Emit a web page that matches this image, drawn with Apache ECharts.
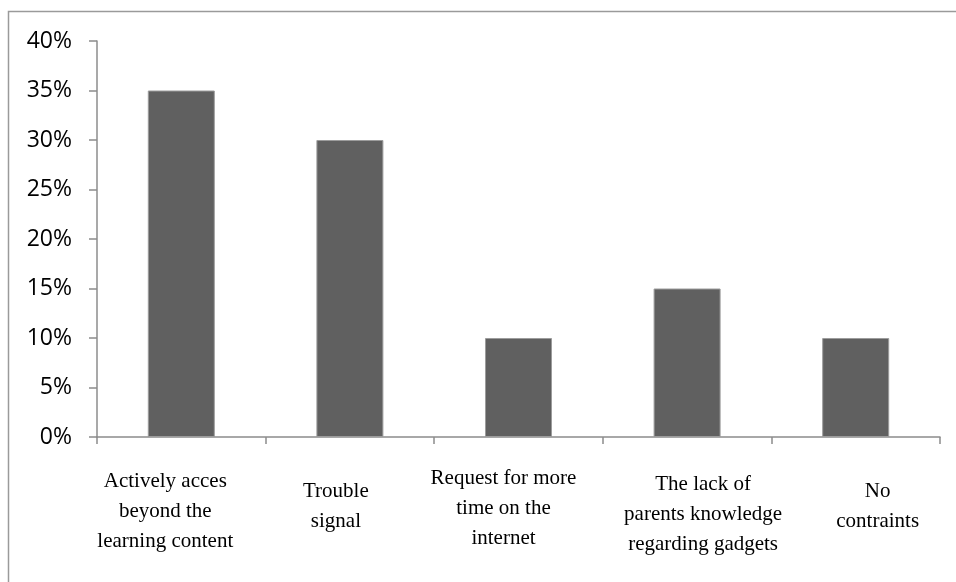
<!DOCTYPE html>
<html>
<head>
<meta charset="utf-8">
<script src="https://cdn.jsdelivr.net/npm/echarts@6/dist/echarts.min.js"></script>
<style>
html,body{margin:0;padding:0;background:#fff;}
#chart{width:956px;height:582px;}
</style>
</head>
<body>
<div id="chart"></div>
<script>
// Data
const categories = [
  "Actively acces\nbeyond the\nlearning content",
  "Trouble\nsignal",
  "Request for more\ntime on the\ninternet",
  "The lack of\nparents knowledge\nregarding gadgets",
  "No\ncontraints"
];
const values = [35, 30, 10, 15, 10];
const yTicks = { min: 0, max: 40, interval: 5 };

// Label placement tweaks (style only): [horizontal shift px, extra top offset px]
const labelShift = [[-16, 3], [-14, 13], [-15, 0], [16, 6], [22, 13]];

const catData = categories.map((c, i) => {
  const dx = labelShift[i][0], top = labelShift[i][1];
  return {
    value: c,
    textStyle: {
      padding: [top, Math.max(0, -2 * dx), 0, Math.max(0, 2 * dx)]
    }
  };
});

const chart = echarts.init(document.getElementById('chart'), null, { renderer: 'canvas' });
chart.setOption({
  animation: false,
  backgroundColor: '#ffffff',
  graphic: [{
    type: 'rect',
    shape: { x: 8.5, y: 11.5, width: 1200, height: 1200 },
    style: { fill: 'none', stroke: '#9a9a9a', lineWidth: 1.5 },
    silent: true,
    z: -1
  }],
  grid: { left: 97, right: 16, top: 41, bottom: 145, containLabel: false, outerBoundsMode: 'none' },
  xAxis: {
    type: 'category',
    data: catData,
    boundaryGap: true,
    axisLine: { show: true, lineStyle: { color: '#8c8c8c', width: 1.5 } },
    axisTick: { show: true, alignWithLabel: false, length: 7, lineStyle: { color: '#8c8c8c', width: 1.5 } },
    axisLabel: {
      interval: 0,
      margin: 26,
      align: 'center',
      fontFamily: 'Liberation Serif',
      fontSize: 21,
      lineHeight: 30,
      color: '#000'
    },
    splitLine: { show: false }
  },
  yAxis: {
    type: 'value',
    min: yTicks.min,
    max: yTicks.max,
    interval: yTicks.interval,
    axisLine: { show: true, lineStyle: { color: '#8c8c8c', width: 1.5 } },
    axisTick: { show: true, length: 8, lineStyle: { color: '#8c8c8c', width: 1.5 } },
    axisLabel: {
      formatter: '{value}%',
      margin: 25,
      fontFamily: 'Open Sans',
      fontSize: 23,
      color: '#000'
    },
    splitLine: { show: false }
  },
  series: [{
    type: 'bar',
    data: values,
    barWidth: 67,
    itemStyle: { color: '#606060', borderColor: '#9c9c9c', borderWidth: 1 }
  }]
});
</script>
</body>
</html>
